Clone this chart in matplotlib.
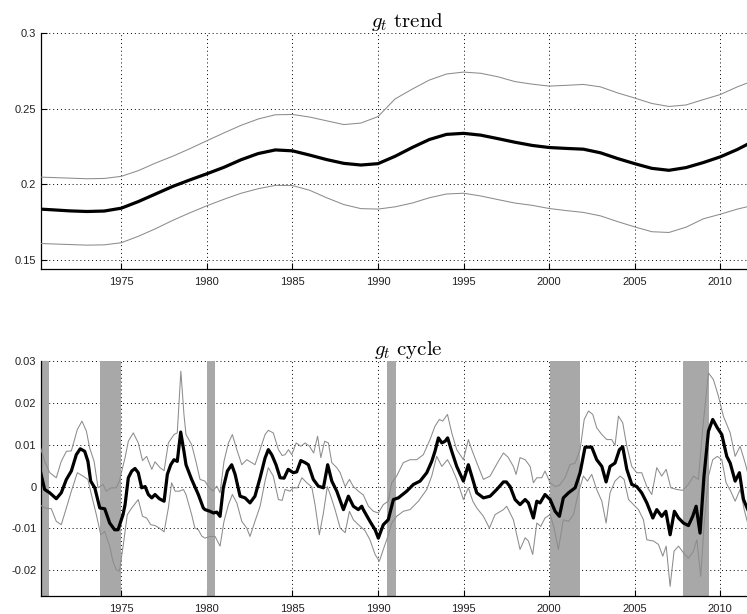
import matplotlib
matplotlib.use("Agg")
import matplotlib.pyplot as plt
from matplotlib.ticker import FuncFormatter, FixedLocator

plt.rcParams["font.family"] = ["Liberation Sans", "DejaVu Sans"]
plt.rcParams["mathtext.fontset"] = "cm"

# ---------------- trend component (yearly readings) ----------------
trend_years = [1970.25] + list(range(1971, 2012)) + [2011.6]
trend_mid = [0.1835, 0.1830, 0.1823, 0.1819, 0.1822, 0.1841, 0.1885, 0.1935, 0.1985,
             0.2028, 0.2069, 0.2112, 0.2162, 0.2203, 0.2227, 0.2221, 0.2193, 0.2163,
             0.2138, 0.2127, 0.2136, 0.2185, 0.2243, 0.2296, 0.2330, 0.2337, 0.2325,
             0.2302, 0.2278, 0.2257, 0.2243, 0.2237, 0.2232, 0.2208, 0.2170, 0.2136,
             0.2105, 0.2092, 0.2110, 0.2143, 0.2181, 0.2230, 0.2265]
trend_hi = [0.2047, 0.2044, 0.2040, 0.2036, 0.2038, 0.2052, 0.2090, 0.2140, 0.2185,
            0.2235, 0.2288, 0.2340, 0.2390, 0.2432, 0.2460, 0.2462, 0.2445, 0.2420,
            0.2395, 0.2405, 0.2448, 0.2565, 0.2630, 0.2690, 0.2730, 0.2743, 0.2735,
            0.2712, 0.2680, 0.2663, 0.2650, 0.2655, 0.2661, 0.2645, 0.2605, 0.2571,
            0.2535, 0.2515, 0.2525, 0.2560, 0.2594, 0.2645, 0.2671]
trend_lo = [0.1607, 0.1604, 0.1600, 0.1596, 0.1598, 0.1612, 0.1655, 0.1705, 0.1760,
            0.1810, 0.1857, 0.1900, 0.1940, 0.1970, 0.1992, 0.1991, 0.1960, 0.1910,
            0.1865, 0.1838, 0.1835, 0.1850, 0.1875, 0.1910, 0.1935, 0.1940, 0.1922,
            0.1898, 0.1875, 0.1860, 0.1839, 0.1825, 0.1813, 0.1790, 0.1752, 0.1717,
            0.1685, 0.1680, 0.1715, 0.1770, 0.1801, 0.1835, 0.1851]

# ---------------- cycle component ----------------
cycle_mid_t = [1970.29, 1970.52, 1970.82, 1971.20, 1971.49, 1971.79, 1972.08, 1972.37, 1972.60,
               1972.86, 1973.05, 1973.21, 1973.45, 1973.74, 1974.03, 1974.32, 1974.61, 1974.81,
               1975.10, 1975.22, 1975.41, 1975.61, 1975.80, 1975.99, 1976.19, 1976.39, 1976.58,
               1976.78, 1976.97, 1977.22, 1977.50, 1977.69, 1977.89, 1978.08, 1978.27, 1978.47,
               1978.66, 1978.78, 1979.11, 1979.50, 1979.79, 1979.89, 1980.18, 1980.38, 1980.58,
               1980.77, 1980.96, 1981.20, 1981.45, 1981.65, 1981.94, 1982.23, 1982.52, 1982.81,
               1983.11, 1983.40, 1983.59, 1983.79, 1984.04, 1984.28, 1984.51, 1984.75, 1985.05,
               1985.25, 1985.49, 1985.74, 1985.93, 1986.22, 1986.51, 1986.81, 1987.06, 1987.30,
               1987.59, 1987.98, 1988.27, 1988.56, 1988.85, 1989.05, 1989.14, 1989.53, 1989.83,
               1990.02, 1990.31, 1990.60, 1990.90, 1991.19, 1991.68, 1992.07, 1992.46, 1992.85,
               1993.14, 1993.33, 1993.53, 1993.73, 1993.92, 1994.07, 1994.31, 1994.60, 1994.99,
               1995.28, 1995.48, 1995.77, 1996.16, 1996.55, 1996.94, 1997.33, 1997.50, 1997.72,
               1998.01, 1998.30, 1998.60, 1998.79, 1999.08, 1999.28, 1999.47, 1999.76, 2000.06,
               2000.35, 2000.60, 2000.83, 2001.13, 2001.52, 2001.81, 2002.10, 2002.49, 2002.78,
               2003.08, 2003.33, 2003.56, 2003.85, 2004.11, 2004.30, 2004.54, 2004.83, 2005.12,
               2005.41, 2005.71, 2006.06, 2006.29, 2006.58, 2006.82, 2007.07, 2007.32, 2007.56,
               2007.85, 2008.14, 2008.39, 2008.59, 2008.82, 2009.05, 2009.31, 2009.56, 2009.83,
               2010.09, 2010.38, 2010.58, 2010.87, 2011.12, 2011.36, 2011.61]
cycle_mid = [0.0033, -0.0007, -0.0015, -0.0029, -0.0015, 0.0017, 0.0037, 0.0076, 0.0090,
             0.0084, 0.0060, 0.0013, -0.0003, -0.0051, -0.0053, -0.0087, -0.0103, -0.0103,
             -0.0067, -0.0043, 0.0021, 0.0037, 0.0043, 0.0033, -0.0003, 0.0000, -0.0019,
             -0.0027, -0.0019, -0.0029, -0.0035, 0.0029, 0.0052, 0.0064, 0.0060, 0.0130,
             0.0084, 0.0052, 0.0017, -0.0019, -0.0051, -0.0055, -0.0059, -0.0063, -0.0061,
             -0.0071, -0.0003, 0.0037, 0.0052, 0.0029, -0.0023, -0.0027, -0.0039, -0.0023,
             0.0021, 0.0068, 0.0088, 0.0076, 0.0052, 0.0021, 0.0020, 0.0041, 0.0033,
             0.0035, 0.0062, 0.0057, 0.0052, 0.0017, 0.0001, -0.0003, 0.0052, 0.0013,
             -0.0011, -0.0055, -0.0023, -0.0047, -0.0055, -0.0047, -0.0055, -0.0083, -0.0103,
             -0.0123, -0.0091, -0.0079, -0.0031, -0.0027, -0.0011, 0.0005, 0.0013, 0.0033,
             0.0060, 0.0084, 0.0116, 0.0104, 0.0108, 0.0116, 0.0084, 0.0048, 0.0013,
             0.0052, 0.0025, -0.0015, -0.0027, -0.0023, -0.0007, 0.0011, 0.0011, 0.0000,
             -0.0031, -0.0043, -0.0031, -0.0039, -0.0075, -0.0035, -0.0039, -0.0019, -0.0031,
             -0.0059, -0.0071, -0.0027, -0.0015, -0.0003, 0.0033, 0.0094, 0.0094, 0.0064,
             0.0048, 0.0011, 0.0048, 0.0056, 0.0088, 0.0095, 0.0041, 0.0005, 0.0000,
             -0.0015, -0.0039, -0.0075, -0.0055, -0.0071, -0.0059, -0.0115, -0.0059, -0.0075,
             -0.0087, -0.0093, -0.0071, -0.0047, -0.0111, 0.0025, 0.0132, 0.0160, 0.0140,
             0.0124, 0.0072, 0.0056, 0.0013, 0.0033, -0.0031, -0.0055]

cycle_hi_t = [1970.23, 1970.52, 1970.82, 1971.20, 1971.49, 1971.79, 1972.08, 1972.43, 1972.70,
              1972.96, 1973.15, 1973.41, 1973.64, 1973.93, 1974.12, 1974.41, 1974.70, 1974.89,
              1975.05, 1975.22, 1975.41, 1975.70, 1975.99, 1976.24, 1976.48, 1976.78, 1976.97,
              1977.26, 1977.50, 1977.75, 1978.08, 1978.27, 1978.48, 1978.66, 1978.78, 1979.11,
              1979.36, 1979.60, 1979.89, 1980.08, 1980.34, 1980.58, 1980.77, 1981.00, 1981.26,
              1981.49, 1981.75, 1982.04, 1982.33, 1982.62, 1982.81, 1983.11, 1983.40, 1983.59,
              1983.88, 1984.18, 1984.40, 1984.57, 1984.77, 1984.96, 1985.22, 1985.49, 1985.74,
              1986.00, 1986.24, 1986.47, 1986.66, 1986.88, 1987.10, 1987.30, 1987.59, 1987.79,
              1988.08, 1988.33, 1988.56, 1988.85, 1989.14, 1989.44, 1989.73, 1990.02, 1990.31,
              1990.60, 1990.80, 1991.09, 1991.48, 1991.87, 1992.26, 1992.65, 1993.04, 1993.33,
              1993.59, 1993.78, 1994.06, 1994.31, 1994.60, 1994.99, 1995.28, 1995.48, 1995.77,
              1996.16, 1996.55, 1997.03, 1997.33, 1997.60, 1997.91, 1998.07, 1998.30, 1998.60,
              1998.89, 1999.08, 1999.28, 1999.57, 1999.76, 2000.06, 2000.35, 2000.60, 2000.93,
              2001.22, 2001.52, 2001.81, 2002.05, 2002.30, 2002.55, 2002.78, 2003.08, 2003.37,
              2003.66, 2003.85, 2004.05, 2004.30, 2004.54, 2004.83, 2005.12, 2005.41, 2005.71,
              2006.00, 2006.29, 2006.58, 2006.84, 2007.11, 2007.46, 2007.81, 2008.14, 2008.43,
              2008.72, 2008.97, 2009.31, 2009.60, 2009.89, 2010.18, 2010.58, 2010.87, 2011.16,
              2011.45, 2011.65]
cycle_hi = [0.0100, 0.0060, 0.0033, 0.0021, 0.0060, 0.0084, 0.0085, 0.0136, 0.0156,
            0.0132, 0.0092, 0.0060, -0.0003, 0.0005, -0.0011, -0.0003, -0.0003, 0.0013,
            0.0041, 0.0069, 0.0108, 0.0128, 0.0104, 0.0062, 0.0072, 0.0041, 0.0059,
            0.0045, 0.0038, 0.0104, 0.0124, 0.0128, 0.0275, 0.0172, 0.0124, 0.0100,
            0.0060, 0.0017, 0.0013, 0.0000, -0.0011, 0.0001, -0.0015, 0.0060, 0.0104,
            0.0124, 0.0088, 0.0052, 0.0064, 0.0057, 0.0052, 0.0088, 0.0124, 0.0134,
            0.0128, 0.0088, 0.0074, 0.0076, 0.0088, 0.0076, 0.0104, 0.0096, 0.0104,
            0.0096, 0.0080, 0.0120, 0.0069, 0.0108, 0.0104, 0.0057, 0.0045, 0.0033,
            0.0000, 0.0017, 0.0000, -0.0011, -0.0020, -0.0047, -0.0059, -0.0063, -0.0043,
            -0.0035, 0.0009, 0.0025, 0.0057, 0.0064, 0.0064, 0.0076, 0.0112, 0.0144,
            0.0160, 0.0156, 0.0172, 0.0128, 0.0088, 0.0064, 0.0112, 0.0088, 0.0057,
            0.0017, 0.0025, 0.0060, 0.0080, 0.0070, 0.0048, 0.0029, 0.0069, 0.0064,
            0.0048, 0.0009, 0.0021, 0.0021, 0.0037, 0.0009, 0.0000, 0.0003, 0.0021,
            0.0052, 0.0056, 0.0088, 0.0160, 0.0180, 0.0172, 0.0140, 0.0124, 0.0112,
            0.0112, 0.0098, 0.0168, 0.0152, 0.0096, 0.0048, 0.0033, 0.0033, 0.0000,
            -0.0019, 0.0045, 0.0025, 0.0041, -0.0003, -0.0007, -0.0009, 0.0005, 0.0025,
            0.0017, 0.0136, 0.0271, 0.0255, 0.0216, 0.0168, 0.0128, 0.0072, 0.0096,
            0.0057, 0.0025]

cycle_lo_t = [1970.23, 1970.52, 1970.91, 1971.20, 1971.49, 1971.79, 1972.08, 1972.43, 1972.76,
              1973.05, 1973.25, 1973.54, 1973.80, 1974.03, 1974.32, 1974.51, 1974.70, 1974.89,
              1975.12, 1975.35, 1975.61, 1975.99, 1976.24, 1976.48, 1976.72, 1976.97, 1977.22,
              1977.50, 1977.75, 1977.94, 1978.14, 1978.40, 1978.63, 1978.78, 1979.11, 1979.30,
              1979.50, 1979.70, 1979.89, 1980.18, 1980.48, 1980.77, 1981.00, 1981.26, 1981.49,
              1981.75, 1982.04, 1982.33, 1982.52, 1982.81, 1983.11, 1983.40, 1983.59, 1983.88,
              1984.18, 1984.40, 1984.57, 1984.86, 1985.05, 1985.30, 1985.55, 1985.84, 1986.13,
              1986.32, 1986.57, 1986.81, 1987.04, 1987.24, 1987.49, 1987.79, 1988.08, 1988.33,
              1988.56, 1988.85, 1989.24, 1989.53, 1989.83, 1990.08, 1990.31, 1990.55, 1990.80,
              1991.09, 1991.48, 1991.87, 1992.36, 1992.85, 1993.14, 1993.43, 1993.73, 1994.06,
              1994.31, 1994.60, 1994.99, 1995.28, 1995.54, 1995.77, 1996.16, 1996.51, 1996.84,
              1997.33, 1997.52, 1997.91, 1998.30, 1998.60, 1998.79, 1999.04, 1999.28, 1999.51,
              1999.76, 2000.06, 2000.29, 2000.54, 2000.83, 2001.13, 2001.42, 2001.71, 2002.00,
              2002.24, 2002.49, 2002.78, 2003.08, 2003.33, 2003.56, 2003.85, 2004.15, 2004.38,
              2004.64, 2004.93, 2005.22, 2005.51, 2005.71, 2006.10, 2006.39, 2006.64, 2006.84,
              2007.07, 2007.30, 2007.56, 2007.85, 2008.14, 2008.43, 2008.63, 2008.86, 2009.05,
              2009.31, 2009.56, 2009.83, 2010.09, 2010.34, 2010.61, 2010.87, 2011.16, 2011.40,
              2011.65]
cycle_lo = [-0.0043, -0.0051, -0.0053, -0.0083, -0.0091, -0.0051, -0.0011, 0.0033, 0.0025,
            0.0017, -0.0019, -0.0067, -0.0115, -0.0107, -0.0142, -0.0178, -0.0198, -0.0202,
            -0.0138, -0.0067, -0.0051, -0.0031, -0.0071, -0.0075, -0.0091, -0.0093, -0.0099,
            -0.0108, -0.0051, 0.0009, -0.0011, -0.0011, -0.0007, -0.0019, -0.0067, -0.0099,
            -0.0103, -0.0118, -0.0123, -0.0119, -0.0119, -0.0142, -0.0083, -0.0043, -0.0019,
            -0.0039, -0.0083, -0.0099, -0.0119, -0.0083, -0.0047, 0.0013, 0.0045, 0.0025,
            -0.0031, -0.0033, -0.0007, -0.0011, -0.0003, -0.0003, 0.0021, 0.0009, -0.0001,
            -0.0043, -0.0115, -0.0063, 0.0000, -0.0023, -0.0055, -0.0099, -0.0110, -0.0059,
            -0.0079, -0.0091, -0.0105, -0.0127, -0.0162, -0.0178, -0.0150, -0.0122, -0.0087,
            -0.0071, -0.0059, -0.0055, -0.0035, -0.0007, 0.0025, 0.0072, 0.0048, 0.0064,
            0.0045, 0.0017, -0.0031, -0.0003, -0.0035, -0.0051, -0.0071, -0.0099, -0.0067,
            -0.0055, -0.0047, -0.0079, -0.0150, -0.0122, -0.0130, -0.0162, -0.0087, -0.0095,
            -0.0075, -0.0067, -0.0099, -0.0150, -0.0079, -0.0083, -0.0067, -0.0015, 0.0025,
            0.0013, 0.0029, -0.0007, -0.0035, -0.0087, -0.0015, 0.0013, 0.0025, 0.0017,
            -0.0031, -0.0043, -0.0055, -0.0079, -0.0127, -0.0130, -0.0138, -0.0166, -0.0142,
            -0.0238, -0.0154, -0.0142, -0.0158, -0.0171, -0.0154, -0.0127, -0.0214, -0.0095,
            0.0025, 0.0064, 0.0072, 0.0064, 0.0009, -0.0011, -0.0035, -0.0007, -0.0055,
            -0.0095]

# recession periods shaded in the cycle panel
recession_start = [1970.0, 1973.75, 1980.0, 1990.55, 2000.05, 2007.8]
recession_end = [1970.75, 1975.0, 1980.5, 1991.05, 2001.8, 2009.32]

year_ticks = [1975, 1980, 1985, 1990, 1995, 2000, 2005, 2010]
trend_ticks = [0.15, 0.2, 0.25, 0.3]
cycle_ticks = [-0.02, -0.01, 0.0, 0.01, 0.02, 0.03]

# the plotting area runs a little past the right edge of the saved figure
XLIM = (1970.29, 2013.2)
AX_LEFT, AX_WIDTH = 0.0545, 0.983
MID_COLOR = "black"
BAND_COLOR = "#8c8c8c"
SHADE = "#a8a8a8"

fig = plt.figure(figsize=(7.47, 6.14), dpi=100)
ax1 = fig.add_axes([AX_LEFT, 0.5619, AX_WIDTH, 0.3839])
ax2 = fig.add_axes([AX_LEFT, 0.0293, AX_WIDTH, 0.3832])

fmt = FuncFormatter(lambda v, _: f"{v:g}")


def style(ax, yticks):
    ax.set_xlim(*XLIM)
    ax.xaxis.set_major_locator(FixedLocator(year_ticks))
    ax.yaxis.set_major_locator(FixedLocator(yticks))
    ax.yaxis.set_major_formatter(fmt)
    ax.grid(True, color="black", linestyle=(0, (1, 3)), linewidth=0.7, zorder=0)
    ax.set_axisbelow(True)
    for side in ("top", "right"):
        ax.spines[side].set_visible(False)
    ax.spines["left"].set_linewidth(0.9)
    ax.spines["bottom"].set_linewidth(0.9)
    ax.tick_params(direction="in", length=4, width=0.8, labelsize=8,
                   labelcolor="#222222")
    ax.tick_params(axis="x", pad=5.5)
    ax.tick_params(axis="y", pad=3.2)


# trend panel
ax1.plot(trend_years, trend_hi, color=BAND_COLOR, lw=0.75, zorder=3)
ax1.plot(trend_years, trend_lo, color=BAND_COLOR, lw=0.75, zorder=3)
ax1.plot(trend_years, trend_mid, color=MID_COLOR, lw=2.3, zorder=4)
ax1.set_ylim(0.1438, 0.3)
style(ax1, trend_ticks)
ax1.set_title(r"$g_t\ \mathrm{trend}$", fontsize=15, pad=2.5)

# cycle panel
for a, b in zip(recession_start, recession_end):
    ax2.axvspan(a, b, color=SHADE, lw=0, zorder=1)
ax2.plot(cycle_hi_t, cycle_hi, color=BAND_COLOR, lw=0.75, zorder=3)
ax2.plot(cycle_lo_t, cycle_lo, color=BAND_COLOR, lw=0.75, zorder=3)
ax2.plot(cycle_mid_t, cycle_mid, color=MID_COLOR, lw=2.3, zorder=4)
ax2.set_ylim(-0.0261, 0.03)
style(ax2, cycle_ticks)
ax2.set_title(r"$g_t\ \mathrm{cycle}$", fontsize=15, pad=2.5)

fig.savefig("out.png", dpi=100)
